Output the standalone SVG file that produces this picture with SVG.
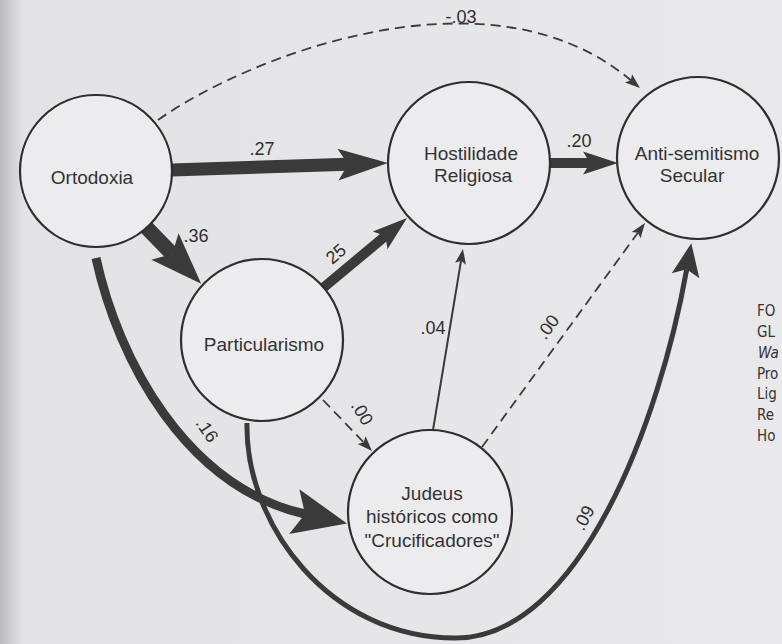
<svg xmlns="http://www.w3.org/2000/svg" width="782" height="644" viewBox="0 0 782 644">
  <defs>
    <linearGradient id="paper" x1="0" y1="0" x2="1" y2="0">
      <stop offset="0" stop-color="#bcbcbe"/>
      <stop offset="0.015" stop-color="#d0d0d2"/>
      <stop offset="0.03" stop-color="#e3e3e5"/>
      <stop offset="1" stop-color="#e9e9eb"/>
    </linearGradient>
    <marker id="hXL" markerUnits="userSpaceOnUse" orient="auto" refX="0" refY="0" markerWidth="60" markerHeight="60" style="overflow:visible">
      <path d="M0,0 L-11,-23 L43,0 L-11,23 Z" fill="#3a3a3a"/>
    </marker>
    <marker id="hL" markerUnits="userSpaceOnUse" orient="auto" refX="0" refY="0" markerWidth="60" markerHeight="60" style="overflow:visible">
      <path d="M0,0 L-10.4,-19 L41.6,0 L-10.4,19 Z" fill="#3a3a3a"/>
    </marker>
    <marker id="hL2" markerUnits="userSpaceOnUse" orient="auto" refX="0" refY="0" markerWidth="60" markerHeight="60" style="overflow:visible">
      <path d="M0,0 L-10,-16 L40,0 L-10,16 Z" fill="#3a3a3a"/>
    </marker>
    <marker id="hM" markerUnits="userSpaceOnUse" orient="auto" refX="0" refY="0" markerWidth="60" markerHeight="60" style="overflow:visible">
      <path d="M0,0 L-7,-11.5 L28,0 L-7,11.5 Z" fill="#3a3a3a"/>
    </marker>
    <marker id="hC" markerUnits="userSpaceOnUse" orient="auto" refX="0" refY="0" markerWidth="60" markerHeight="60" style="overflow:visible">
      <path d="M0,0 L-6.6,-14 L26.4,0 L-6.6,14 Z" fill="#3a3a3a"/>
    </marker>
    <marker id="hS" markerUnits="userSpaceOnUse" orient="auto" refX="0" refY="0" markerWidth="30" markerHeight="30" style="overflow:visible">
      <path d="M0,0 L-3,-5.5 L12,0 L-3,5.5 Z" fill="#3a3a3a"/>
    </marker>
  </defs>
  <style>
    .node circle { fill: #ececee; stroke: #2e2e2e; stroke-width: 2.2; }
    .node text { font-family: "Liberation Sans", Arial, sans-serif; font-size: 19px; fill: #333; text-anchor: middle; }
    .edge { fill: none; stroke: #3a3a3a; stroke-linecap: butt; }
    .dash { stroke-width: 1.8; stroke-dasharray: 10 6; }
    .lbl { font-family: "Liberation Sans", Arial, sans-serif; font-size: 18px; fill: #2e2e2e; text-anchor: middle; }
    .rl { dominant-baseline: central; }
    .side { font-family: "DejaVu Sans Condensed", "Liberation Sans Narrow", "Liberation Sans", sans-serif; font-stretch: condensed; font-size: 15px; fill: #333; }
  </style>

  <rect x="0" y="0" width="782" height="644" fill="url(#paper)"/>

  <g id="connectors">
    <path class="edge dash" d="M158,120 C250,55 491,-38 630.8,80.3" marker-end="url(#hS)"/>
    <path class="edge" d="M172,170 L348,164.3" stroke-width="13" marker-end="url(#hL2)"/>
    <path class="edge" d="M143,224 L172.2,254" stroke-width="15" marker-end="url(#hL)"/>
    <path class="edge" d="M550,163 L590,163" stroke-width="10" marker-end="url(#hM)"/>
    <path class="edge" d="M323,288 L385.5,235.9" stroke-width="10" marker-end="url(#hM)"/>
    <path class="edge" d="M433,430 L461,260.8" stroke-width="2" marker-end="url(#hS)"/>
    <path class="edge dash" d="M482,447 L637.9,232.7" marker-end="url(#hS)"/>
    <path class="edge dash" d="M323,400 L363.7,442.3" marker-end="url(#hS)"/>
    <path class="edge" d="M96,258 C118,360 186,487 305,514" stroke-width="9" marker-end="url(#hXL)"/>
    <path class="edge" d="M247,423 C245,525 330,638 455,638 C580,638 660,420 686.7,269.2" stroke-width="5" marker-end="url(#hC)"/>

    <text class="lbl" x="461" y="23">-.03</text>
    <text class="lbl" x="262" y="155">.27</text>
    <text class="lbl" x="579" y="147">.20</text>
    <text class="lbl" x="196" y="242">.36</text>
    <text class="lbl" x="433" y="334">.04</text>
    <text class="lbl rl" transform="translate(336,254) rotate(-40)">25</text>
    <text class="lbl rl" transform="translate(548,327) rotate(-54)">.00</text>
    <text class="lbl rl" transform="translate(362,413) rotate(58)">.00</text>
    <text class="lbl rl" transform="translate(207,430) rotate(56)">.16</text>
    <text class="lbl rl" transform="translate(584,518) rotate(-62)">.09</text>
  </g>

  <g id="ortodoxia" class="node">
    <circle cx="96" cy="171" r="76"/>
    <text x="92" y="184">Ortodoxia</text>
  </g>
  <g id="hostilidade" class="node">
    <circle cx="469" cy="163" r="81"/>
    <text x="471" y="160">Hostilidade</text>
    <text x="473" y="182">Religiosa</text>
  </g>
  <g id="antisemitismo" class="node">
    <circle cx="698" cy="158" r="81"/>
    <text x="697" y="160">Anti-semitismo</text>
    <text x="692" y="182">Secular</text>
  </g>
  <g id="particularismo" class="node">
    <circle cx="262" cy="340" r="81"/>
    <text x="264" y="351">Particularismo</text>
  </g>
  <g id="judeus" class="node">
    <circle cx="430" cy="512" r="82"/>
    <text x="432" y="500">Judeus</text>
    <text x="432" y="523">históricos como</text>
    <text x="432" y="547">"Crucificadores"</text>
  </g>

  <g id="margin-text" class="side">
    <text x="757" y="316">FO</text>
    <text x="757" y="337">GL</text>
    <text x="758" y="358" font-style="italic">Wa</text>
    <text x="757" y="379">Pro</text>
    <text x="757" y="399">Lig</text>
    <text x="757" y="420">Re</text>
    <text x="757" y="441">Ho</text>
  </g>
</svg>
